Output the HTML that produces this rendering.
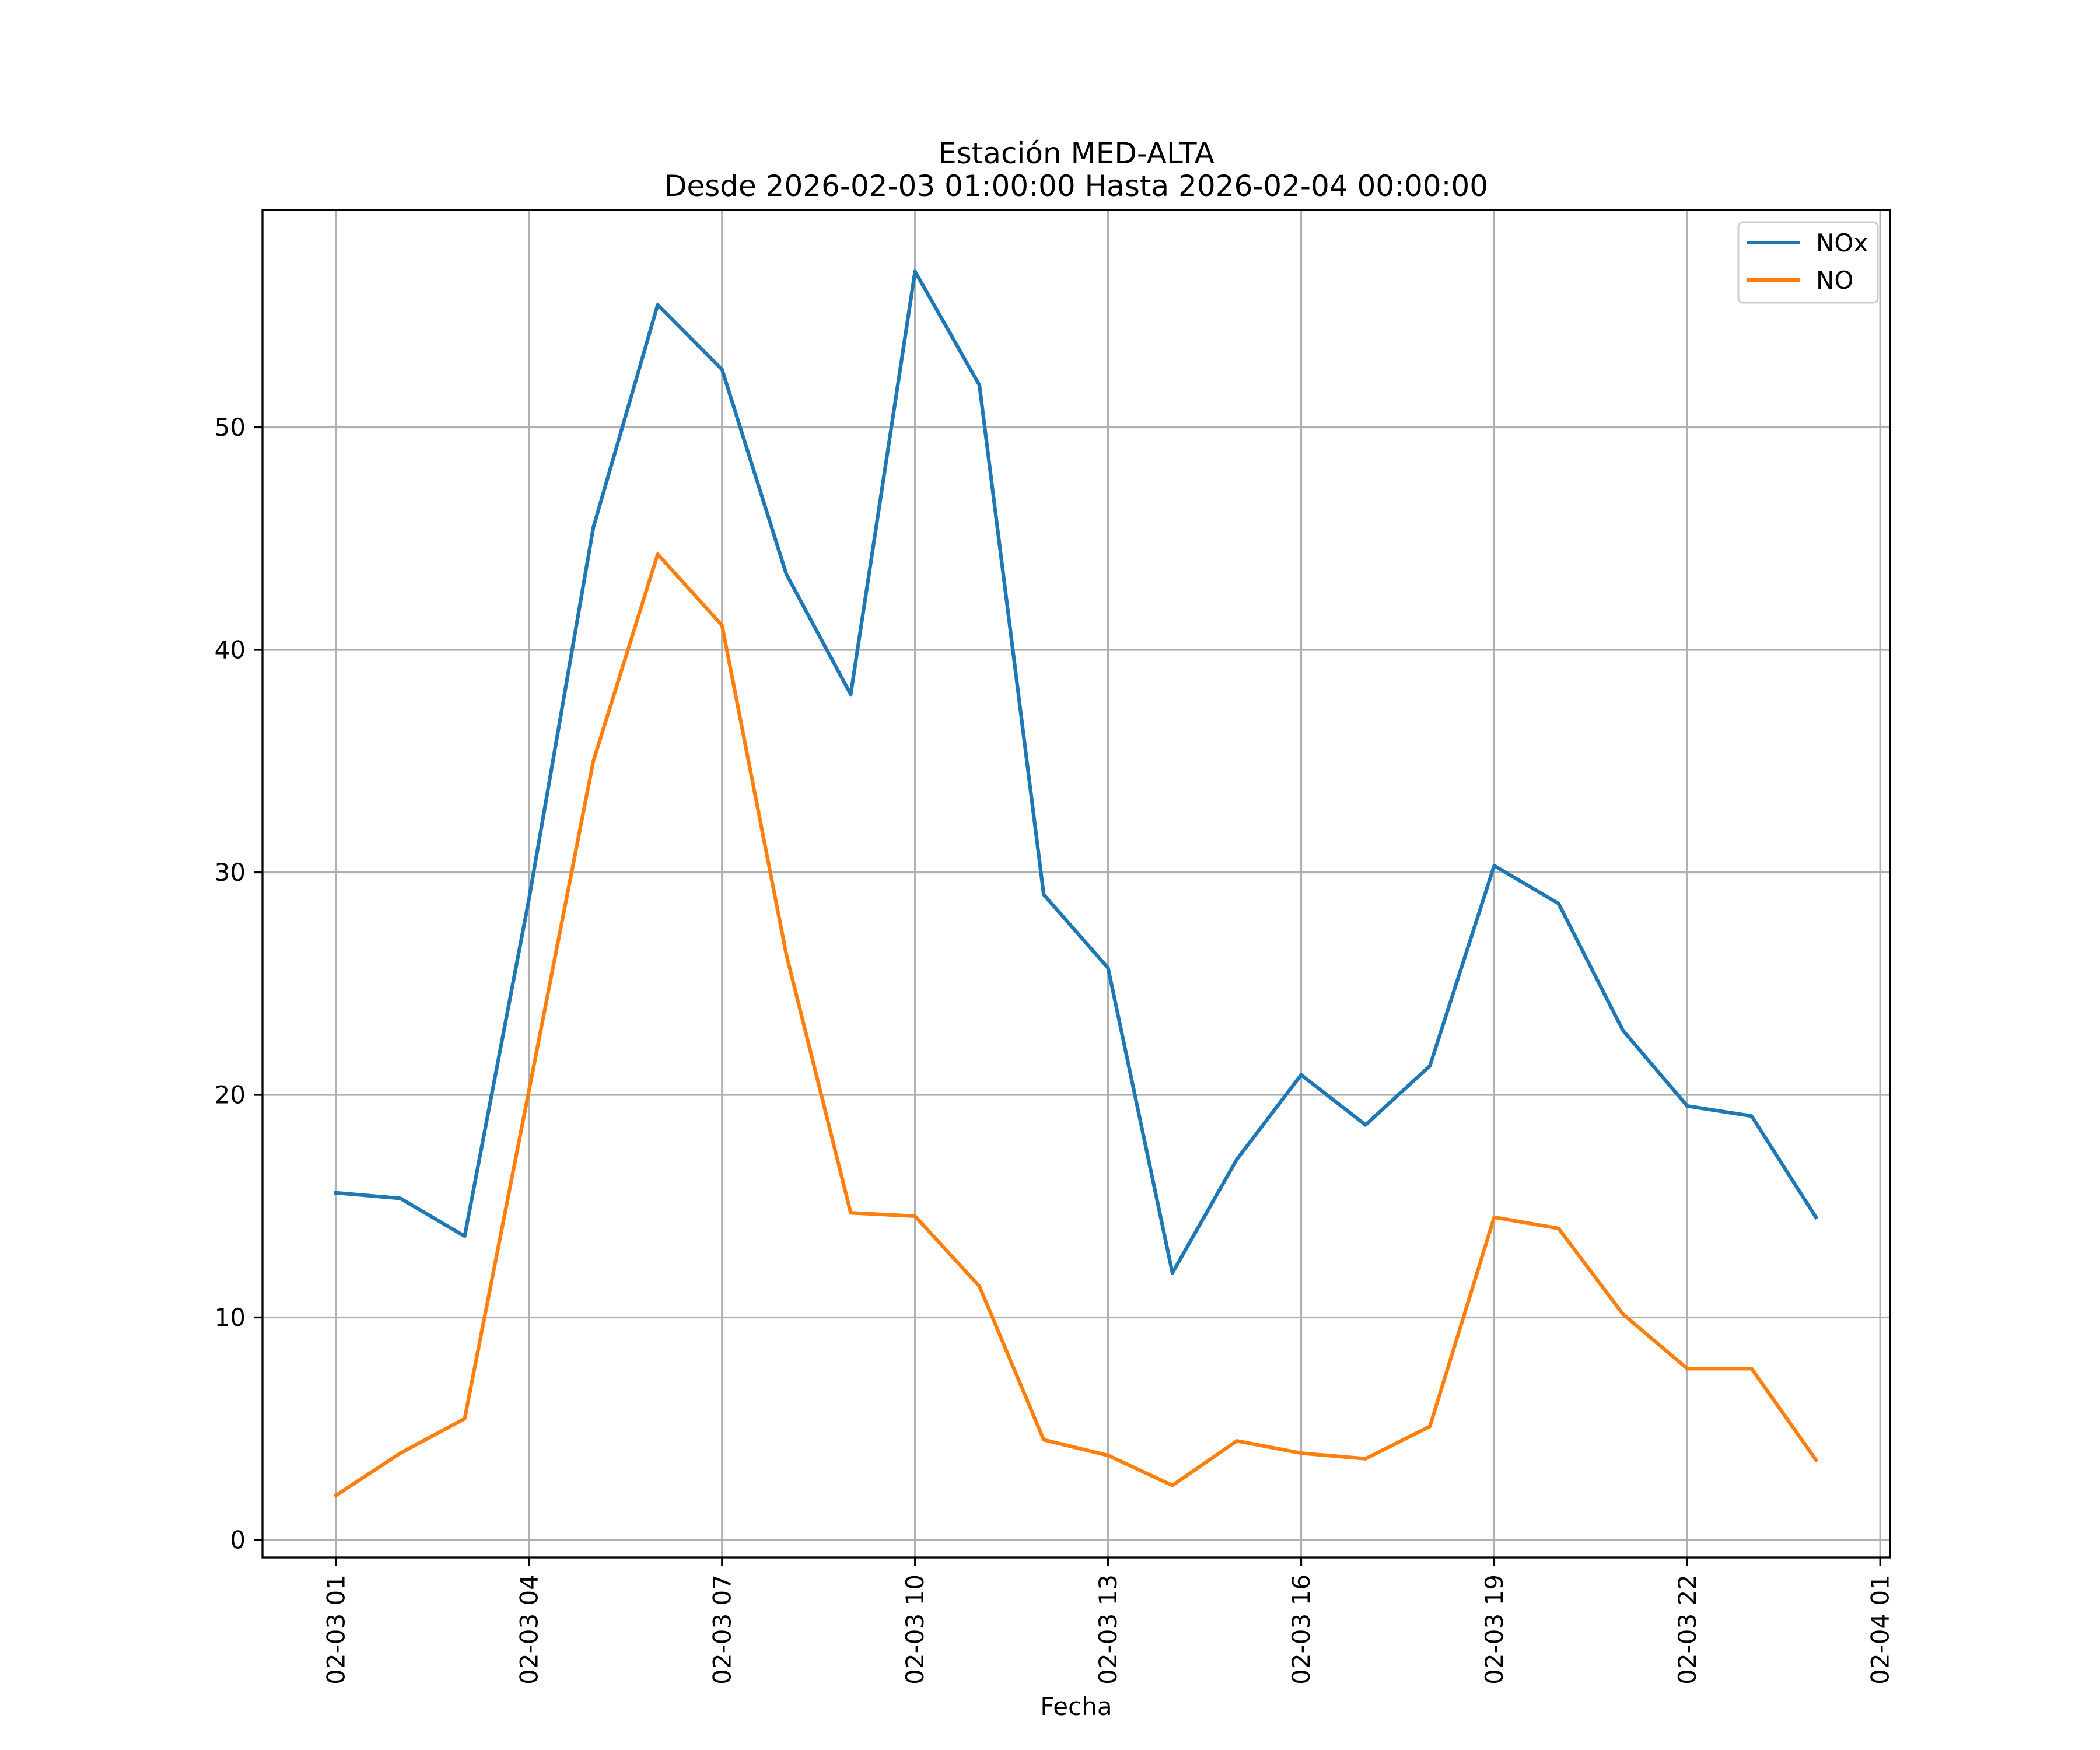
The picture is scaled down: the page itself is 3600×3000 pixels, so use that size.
<!DOCTYPE html>
<html><head><meta charset="utf-8"><style>html,body{margin:0;padding:0;background:#fff}svg{display:block}text{font-family:"DejaVu Sans","Liberation Sans",sans-serif;fill:#000}</style></head>
<body>
<svg id="chart" width="3600" height="3000" viewBox="0 0 3600 3000" xmlns="http://www.w3.org/2000/svg">
<rect width="3600" height="3000" fill="#fff"/>
<g id="grid"></g>
<g id="series"></g>
<rect x="450" y="360" width="2790" height="2310" fill="none" stroke="#000" stroke-width="3.3"/>
<g id="ticks"></g>
<text x="1845" y="280" font-size="50" text-anchor="middle">Estación MED-ALTA</text>
<text x="1845" y="336" font-size="50" text-anchor="middle">Desde 2026-02-03 01:00:00 Hasta 2026-02-04 00:00:00</text>
<text x="1845" y="2940" font-size="42" text-anchor="middle">Fecha</text>
<g>
<rect x="2980" y="381" width="239" height="138" rx="8" fill="#fff" fill-opacity="0.8" stroke="#ccc" stroke-width="3"/>
<line x1="2994" y1="416" x2="3086" y2="416" stroke="#1f77b4" stroke-width="6"/>
<text x="3113" y="431" font-size="42">NOx</text>
<line x1="2994" y1="480" x2="3086" y2="480" stroke="#ff7f0e" stroke-width="6"/>
<text x="3113" y="495" font-size="42">NO</text>
</g>
</svg>
<script>
const hours = [1,2,3,4,5,6,7,8,9,10,11,12,13,14,15,16,17,18,19,20,21,22,23,24];
const noxValues = [15.6,15.35,13.65,28.8,45.5,55.5,52.6,43.4,38.0,57.0,51.9,29.0,25.7,12.0,17.1,20.9,18.65,21.3,30.3,28.6,22.9,19.5,19.05,14.5];
const noValues = [2.0,3.9,5.45,20.2,35.0,44.3,41.1,26.3,14.7,14.55,11.4,4.5,3.8,2.45,4.45,3.9,3.65,5.1,14.5,14.0,10.15,7.7,7.7,3.6];
const xTickHours = [1,4,7,10,13,16,19,22,25];
const xTickLabels = ["02-03 01","02-03 04","02-03 07","02-03 10","02-03 13","02-03 16","02-03 19","02-03 22","02-04 01"];
const yTicks = [0,10,20,30,40,50];

const NS="http://www.w3.org/2000/svg";
const L=450,R=3240,T=360,B=2670;
const xMin=1-(576-450)/110.3, xMax=1+(3240-576)/110.3;
const yMin=-(2670-2640)/38.15, yMax=(2640-360)/38.15;
const x=h=>L+(h-xMin)/(xMax-xMin)*(R-L);
const y=v=>B-(v-yMin)/(yMax-yMin)*(B-T);
function mk(tag,attrs,parent){const e=document.createElementNS(NS,tag);for(const k in attrs)e.setAttribute(k,attrs[k]);parent.appendChild(e);return e;}
const grid=document.getElementById('grid'),ticks=document.getElementById('ticks'),series=document.getElementById('series');
xTickHours.forEach((h,i)=>{
  const X=x(h);
  const g=mk('line',{x1:X,x2:X,y1:T,y2:B,stroke:'#b0b0b0','stroke-width':3.3},grid);
  
  
  const t=mk('line',{x1:X,x2:X,y1:B,y2:B+14.6,stroke:'#000','stroke-width':3.3},ticks);
  
  
  const tx=mk('text',{x:0,y:0,'font-size':42,'text-anchor':'end','dominant-baseline':'central',transform:`translate(${X},${B+29}) rotate(-90)`},ticks);
  tx.textContent=xTickLabels[i];
  
  
});
yTicks.forEach(v=>{
  const Y=y(v);
  const g=mk('line',{x1:L,x2:R,y1:Y,y2:Y,stroke:'#b0b0b0','stroke-width':3.3},grid);
  
  
  const t=mk('line',{x1:L-14.6,x2:L,y1:Y,y2:Y,stroke:'#000','stroke-width':3.3},ticks);
  
  
  const tx=mk('text',{x:L-29,y:Y,'font-size':42,'text-anchor':'end','dominant-baseline':'central'},ticks);
  tx.textContent=v;
  
  
});
function line(vals,color,name){
  const p=mk('polyline',{points:vals.map((v,i)=>x(hours[i])+','+y(v)).join(' '),fill:'none',stroke:color,'stroke-width':6.25,'stroke-linejoin':'round','stroke-linecap':'square'},series);
  
  
}
line(noxValues,'#1f77b4','nox-line');
line(noValues,'#ff7f0e','no-line');
</script>
</body></html>
